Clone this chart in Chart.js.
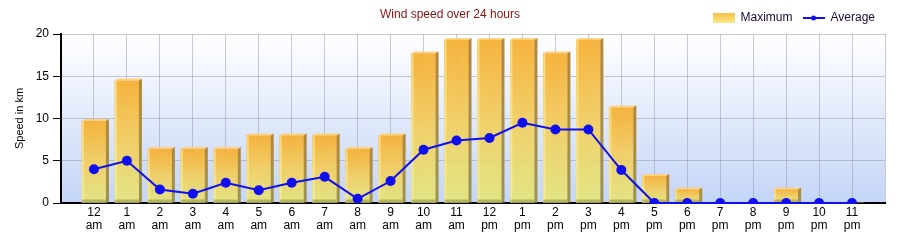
<!DOCTYPE html>
<html>
<head>
<meta charset="utf-8">
<script src="https://cdn.jsdelivr.net/npm/chart.js@4.4.1/dist/chart.umd.min.js"></script>
<style>
  html, body { margin: 0; padding: 0; background: #fff; }
  #wrap { width: 900px; height: 240px; }
</style>
</head>
<body>
<div id="wrap"><canvas id="windChart" width="900" height="240"></canvas></div>
<script>
// wind speed per hour, km
const hours = ["12", "1", "2", "3", "4", "5", "6", "7", "8", "9", "10", "11",
  "12", "1", "2", "3", "4", "5", "6", "7", "8", "9", "10", "11"];
const periods = ["am", "am", "am", "am", "am", "am", "am", "am", "am", "am", "am", "am",
  "pm", "pm", "pm", "pm", "pm", "pm", "pm", "pm", "pm", "pm", "pm", "pm"];
const maxSpeed = [9.7, 14.5, 6.4, 6.4, 6.4, 8.0, 8.0, 8.0, 6.4, 8.0, 17.7, 19.3,
  19.3, 19.3, 17.7, 19.3, 11.3, 3.2, 1.6, 0, 0, 1.6, 0, 0];
const avgSpeed = [4.0, 5.0, 1.6, 1.1, 2.4, 1.5, 2.4, 3.1, 0.5, 2.6, 6.3, 7.4,
  7.7, 9.5, 8.7, 8.7, 3.9, 0, 0, 0, 0, 0, 0, 0];
const yTicks = [0, 5, 10, 15, 20];

const FONT = "'Liberation Sans', Arial, sans-serif";
const BLUE = "#1010ee";

// little legend swatches
function makeSwatch(kind) {
  const c = document.createElement("canvas");
  c.width = 22;
  c.height = 10;
  const g = c.getContext("2d");
  if (kind === "bar") {
    const grad = g.createLinearGradient(0, 0, 0, 10);
    grad.addColorStop(0, "#f8bf48");
    grad.addColorStop(1, "#fbe98a");
    g.fillStyle = grad;
    g.fillRect(0, 0, 22, 10);
  } else {
    g.fillStyle = BLUE;
    g.fillRect(0, 4, 22, 2);
    g.beginPath();
    g.arc(11, 5, 2.5, 0, Math.PI * 2);
    g.fill();
  }
  return c;
}
const swatches = [makeSwatch("bar"), makeSwatch("line")];

// each bar gets its own orange -> yellow fade
function barFill(c) {
  const chart = c.chart;
  if (!chart.chartArea || c.dataIndex === undefined) return "#f2cc5c";
  const y = chart.scales.y;
  const top = y.getPixelForValue(maxSpeed[c.dataIndex]);
  const bottom = y.getPixelForValue(0);
  if (!(bottom - top > 0)) return "#f2cc5c";
  const grad = chart.ctx.createLinearGradient(0, top, 0, bottom);
  grad.addColorStop(0, "rgba(246,174,48,0.93)");
  grad.addColorStop(0.5, "rgba(242,206,96,0.93)");
  grad.addColorStop(1, "rgba(228,230,124,0.93)");
  return grad;
}

const plotBackground = {
  id: "plotBackground",
  beforeDraw(chart) {
    const { ctx, chartArea: a } = chart;
    ctx.save();
    const grad = ctx.createLinearGradient(0, a.top, 0, a.bottom);
    grad.addColorStop(0, "#ffffff");
    grad.addColorStop(1, "#c4d5f7");
    ctx.fillStyle = grad;
    ctx.fillRect(a.left, a.top, a.right - a.left, a.bottom - a.top);
    ctx.restore();
  }
};

// 3d top face, side and edge shading over the library's bars
const bars3d = {
  id: "bars3d",
  afterDatasetDraw(chart, args) {
    if (args.meta.type !== "bar") return;
    const ctx = chart.ctx;
    const d = 3;
    ctx.save();
    args.meta.data.forEach((el) => {
      const h = el.base - el.y;
      if (!(h >= 1)) return;
      const left = el.x - el.width / 2;
      const right = el.x + el.width / 2;
      const top = el.y;
      const bottom = el.base;

      // left highlight
      ctx.fillStyle = "rgba(252,240,160,0.6)";
      ctx.fillRect(left, top, 2, h);

      // bottom shade
      ctx.fillStyle = "rgba(150,140,60,0.55)";
      ctx.fillRect(left, bottom - Math.min(3, h), el.width, Math.min(3, h));

      // top face
      ctx.fillStyle = "#fdd183";
      ctx.beginPath();
      ctx.moveTo(left, top);
      ctx.lineTo(left + d, top - d + 1);
      ctx.lineTo(right + d, top - d + 1);
      ctx.lineTo(right, top);
      ctx.closePath();
      ctx.fill();

      // right side
      const side = ctx.createLinearGradient(0, top, 0, bottom);
      side.addColorStop(0, "#b4873a");
      side.addColorStop(1, "#9c9452");
      ctx.fillStyle = side;
      ctx.beginPath();
      ctx.moveTo(right, top);
      ctx.lineTo(right + d, top - d + 1);
      ctx.lineTo(right + d, bottom);
      ctx.lineTo(right, bottom);
      ctx.closePath();
      ctx.fill();
    });
    ctx.restore();
  }
};

const chartTitle = {
  id: "chartTitle",
  afterDraw(chart) {
    const ctx = chart.ctx;
    ctx.save();
    ctx.font = "12px " + FONT;
    ctx.fillStyle = "#8b1010";
    ctx.textAlign = "center";
    ctx.textBaseline = "middle";
    ctx.fillText("Wind speed over 24 hours", 450, 15);
    ctx.restore();
  }
};

const gridColor = "rgba(140,140,165,0.45)";

new Chart(document.getElementById("windChart"), {
  data: {
    datasets: [
      {
        type: "line",
        label: "Average",
        data: avgSpeed.map((v, i) => ({ x: i, y: v })),
        borderColor: BLUE,
        backgroundColor: BLUE,
        borderWidth: 2,
        pointRadius: 5,
        pointBackgroundColor: BLUE,
        pointBorderWidth: 0,
        clip: { left: 0, top: 0, right: 0, bottom: 1 },
        order: 0
      },
      {
        type: "bar",
        label: "Maximum",
        data: maxSpeed.map((v, i) => ({ x: i, y: v })),
        backgroundColor: barFill,
        borderWidth: 0,
        barThickness: 24,
        order: 1
      }
    ]
  },
  options: {
    responsive: false,
    animation: false,
    layout: { padding: { top: 2, right: 15, left: 0, bottom: 0 } },
    plugins: {
      tooltip: { enabled: false },
      legend: {
        position: "top",
        align: "end",
        labels: {
          usePointStyle: true,
          pointStyleWidth: 22,
          boxHeight: 10,
          padding: 10,
          color: "#1c0838",
          font: { size: 12, family: FONT },
          generateLabels(chart) {
            // bar first, like the original
            return [1, 0].map((di, k) => {
              const ds = chart.data.datasets[di];
              return {
                text: ds.label,
                datasetIndex: di,
                pointStyle: swatches[k],
                fillStyle: "transparent",
                strokeStyle: "transparent",
                lineWidth: 0,
                fontColor: "#1c0838",
                hidden: false
              };
            });
          }
        }
      }
    },
    scales: {
      x: {
        type: "linear",
        min: -1,
        max: 24,
        offset: false,
        afterFit(scale) { scale.height = 37; },
        afterBuildTicks(scale) {
          scale.ticks = [];
          for (let i = -1; i <= 24; i++) scale.ticks.push({ value: i });
        },
        grid: { color: gridColor, drawTicks: false, offset: false },
        border: { display: true, color: "#000", width: 2 },
        ticks: {
          padding: 3,
          autoSkip: false,
          maxRotation: 0,
          color: "#000",
          font: { size: 12, family: FONT, lineHeight: 1.1 },
          callback(value) {
            if (value < 0 || value >= hours.length) return "";
            return [hours[value], periods[value]];
          }
        }
      },
      y: {
        min: 0,
        max: 20,
        afterFit(scale) { scale.width = 61; },
        afterBuildTicks(scale) {
          scale.ticks = yTicks.map((v) => ({ value: v }));
        },
        grid: { color: gridColor, tickColor: "#000", tickLength: 8 },
        border: { display: true, color: "#000", width: 2 },
        ticks: {
          padding: 4,
          color: "#000",
          font: { size: 12, family: FONT }
        },
        title: {
          display: true,
          text: "Speed in km",
          color: "#000",
          font: { size: 11, family: FONT },
          padding: { top: 13, bottom: 0 }
        }
      }
    }
  },
  plugins: [plotBackground, bars3d, chartTitle]
});
</script>
</body>
</html>
